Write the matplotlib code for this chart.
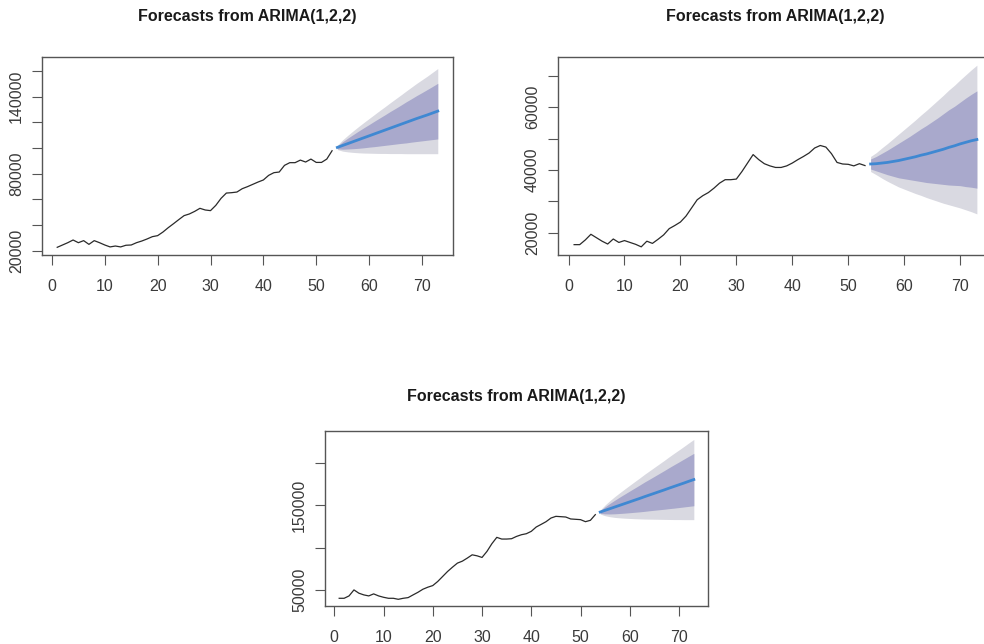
import matplotlib
matplotlib.use('Agg')
import matplotlib.pyplot as plt

plt.rcParams['font.family'] = ['Liberation Sans', 'DejaVu Sans']

t_hist = list(range(1, 54))
t_fc = list(range(54, 74))

# ---------- Panel 1 ----------
p1_hist = [22600, 24400, 26200, 28300, 26200, 27800, 24900, 27800, 26200, 24400,
           22900, 23600, 22900, 24200, 24400, 26200, 27500, 29100, 30900, 31700,
           34500, 37900, 41000, 44200, 47300, 48600, 50600, 53000, 51700, 51200,
           55300, 60800, 64900, 65200, 65700, 68300, 69900, 71700, 73500, 75100,
           78700, 80800, 81300, 86500, 88600, 88600, 90600, 89100, 91400, 88800,
           88800, 91400, 97900]
p1_mean = [100500, 102000, 103500, 105000, 106500, 108000, 109500, 111000, 112500, 114000,
           115500, 117000, 118500, 120000, 121500, 123000, 124400, 125800, 127300, 128800]
p1_lo95 = [98800, 97600, 97000, 96600, 96300, 96100, 96000, 95900, 95800, 95800,
           95700, 95700, 95700, 95600, 95600, 95600, 95600, 95600, 95600, 95600]
p1_hi95 = [102200, 106400, 110000, 113400, 116700, 119900, 123000, 126100, 129200, 132200,
           135300, 138300, 141300, 144400, 147400, 150400, 153200, 156000, 159000, 162000]
p1_lo80 = [99400, 99100, 99300, 99500, 99800, 100200, 100700, 101100, 101600, 102100,
           102600, 103100, 103600, 104000, 104600, 105100, 105600, 106100, 106600, 107100]
p1_hi80 = [101600, 104900, 107800, 110500, 113200, 115800, 118300, 120900, 123400, 125900,
           128500, 130900, 133400, 136000, 138400, 140900, 143200, 145600, 148000, 150500]
p1_yticks = [20000, 40000, 60000, 80000, 100000, 120000, 140000, 160000]
p1_ylabels = ['20000', '', '', '80000', '', '', '140000', '']

# ---------- Panel 2 ----------
p2_hist = [16200, 16200, 17700, 19500, 18400, 17300, 16400, 18000, 16900, 17500,
           16900, 16300, 15500, 17300, 16600, 17900, 19300, 21300, 22300, 23400,
           25300, 27900, 30500, 31800, 32800, 34200, 35800, 36900, 36900, 37100,
           39500, 42200, 44900, 43300, 42000, 41300, 40800, 40800, 41300, 42200,
           43300, 44300, 45400, 47000, 47800, 47300, 45200, 42400, 41900, 41800,
           41300, 42000, 41400]
p2_mean = [41900, 42000, 42200, 42400, 42700, 43000, 43400, 43800, 44200, 44700,
           45100, 45600, 46100, 46600, 47200, 47700, 48300, 48800, 49300, 49700]
p2_lo95 = [39500, 38500, 37400, 36400, 35500, 34600, 33900, 33200, 32500, 31900,
           31200, 30600, 30000, 29400, 28900, 28400, 27900, 27300, 26700, 26000]
p2_hi95 = [44300, 45500, 47000, 48400, 49900, 51400, 52900, 54400, 55900, 57500,
           59000, 60600, 62200, 63800, 65500, 67000, 68700, 70300, 71900, 73400]
p2_lo80 = [40300, 39700, 39100, 38500, 38000, 37500, 37200, 36900, 36600, 36300,
           36000, 35800, 35600, 35400, 35200, 35100, 35000, 34700, 34500, 34200]
p2_hi80 = [43500, 44300, 45300, 46300, 47400, 48500, 49600, 50700, 51900, 53100,
           54200, 55400, 56600, 57900, 59200, 60300, 61600, 62900, 64100, 65200]
p2_yticks = [20000, 30000, 40000, 50000, 60000, 70000]
p2_ylabels = ['20000', '', '40000', '', '60000', '']

# ---------- Panel 3 ----------
p3_hist = [40100, 40100, 42900, 50000, 46100, 44100, 42900, 45300, 42900, 41300,
           40100, 40100, 38900, 40100, 40900, 44100, 47200, 50800, 53200, 55100,
           59900, 65800, 71700, 76800, 81600, 83900, 87500, 91400, 90200, 88300,
           95400, 104500, 112000, 110000, 110000, 110400, 113100, 115100, 116300, 119100,
           124200, 127300, 130500, 134800, 136800, 136400, 136000, 133700, 133300, 132900,
           130500, 132100, 138800]
p3_mean = [141900, 143900, 145900, 147900, 149900, 151900, 153900, 155900, 157900, 160000,
           162000, 164000, 166000, 168000, 170100, 172100, 174100, 176100, 178200, 180200]
p3_lo95 = [139500, 137500, 136300, 135500, 135000, 134600, 134300, 134000, 133800, 133600,
           133500, 133400, 133300, 133200, 133100, 133000, 133000, 132900, 132900, 132900]
p3_hi95 = [144300, 150300, 155500, 160300, 164800, 169200, 173500, 177800, 182000, 186400,
           190500, 194600, 198700, 202800, 207100, 211200, 215200, 219300, 223500, 227500]
p3_lo80 = [140300, 139700, 139600, 139800, 140200, 140600, 141100, 141600, 142100, 142700,
           143400, 144000, 144600, 145200, 145900, 146500, 147200, 147900, 148600, 149300]
p3_hi80 = [143500, 148100, 152200, 156000, 159700, 163200, 166700, 170200, 173700, 177300,
           180600, 184000, 187400, 190800, 194300, 197700, 201000, 204400, 207800, 211100]
p3_yticks = [50000, 100000, 150000, 200000]
p3_ylabels = ['50000', '', '150000', '']

x_ticks = [0, 10, 20, 30, 40, 50, 60, 70]
x_labels = ['0', '10', '20', '30', '40', '50', '60', '70']
title = 'Forecasts from ARIMA(1,2,2)'

C95 = '#d9d9e1'
C80 = '#a9a9cc'
CMEAN = '#3f88d2'
CLINE = '#2a2a2a'
CAX = '#555555'

W, H = 984, 644
fig = plt.figure(figsize=(W / 100, H / 100), dpi=100)


def rect(l, r, t, b):
    return [l / W, (H - b) / H, (r - l) / W, (b - t) / H]


def panel(box, hist, mean, lo80, hi80, lo95, hi95, ylim, yticks, ylabels, title_xy):
    ax = fig.add_axes(rect(*box))
    ax.fill_between(t_fc, lo95, hi95, color=C95, lw=0)
    ax.fill_between(t_fc, lo80, hi80, color=C80, lw=0)
    ax.plot(t_hist, hist, color=CLINE, lw=0.9)
    ax.plot(t_fc, mean, color=CMEAN, lw=2.0)
    ax.set_xlim(-1.88, 75.88)
    ax.set_ylim(*ylim)
    ax.set_xticks(x_ticks)
    ax.set_xticklabels(x_labels)
    ax.set_yticks(yticks)
    ax.set_yticklabels(ylabels, rotation=90, va='center')
    ax.tick_params(axis='x', direction='out', length=7, width=0.8, color=CAX,
                   labelsize=11.5, labelcolor='#3a3a3a', pad=10)
    ax.tick_params(axis='y', direction='out', length=7, width=0.8, color=CAX,
                   labelsize=11.5, labelcolor='#3a3a3a', pad=6)
    for s in ax.spines.values():
        s.set_color(CAX)
        s.set_linewidth(1.0)
    fig.text(title_xy[0] / W, 1 - title_xy[1] / H, title, ha='center', va='center',
             fontsize=11.5, fontweight='bold', color='#1a1a1a')
    return ax


panel((42, 453, 57, 255), p1_hist, p1_mean, p1_lo80, p1_hi80, p1_lo95, p1_hi95,
      (16600, 171000), p1_yticks, p1_ylabels, (247, 16))
panel((558, 993, 57, 255), p2_hist, p2_mean, p2_lo80, p2_hi80, p2_lo95, p2_hi95,
      (12900, 76000), p2_yticks, p2_ylabels, (775, 16))
panel((325, 708, 431, 606), p3_hist, p3_mean, p3_lo80, p3_hi80, p3_lo95, p3_hi95,
      (31000, 237500), p3_yticks, p3_ylabels, (516, 397))

fig.savefig('out.png', dpi=100)
